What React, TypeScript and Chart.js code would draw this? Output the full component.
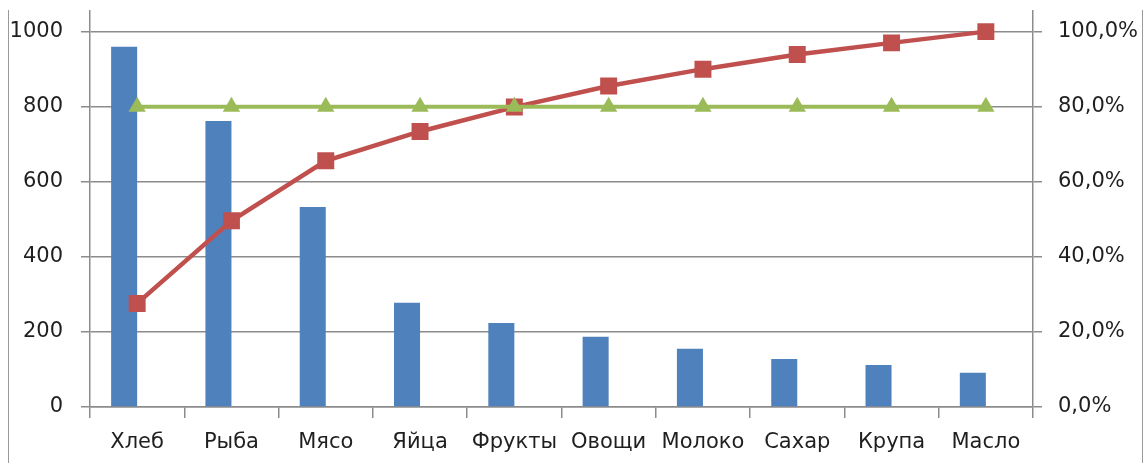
import React, { useEffect, useRef } from "react";
import { Chart, registerables } from "chart.js";

Chart.register(...registerables);

const categories = ["Хлеб", "Рыба", "Мясо", "Яйца", "Фрукты", "Овощи", "Молоко", "Сахар", "Крупа", "Масло"];
const amounts = [960, 762, 533, 278, 224, 187, 155, 128, 112, 91];
const emptySeries = [null, null, null, null, null, null, null, null, null, null];
const cumulativeShare = [0.276, 0.496, 0.656, 0.734, 0.799, 0.855, 0.9, 0.939, 0.97, 1.0];
const threshold = [0.8, 0.8, 0.8, 0.8, 0.8, 0.8, 0.8, 0.8, 0.8, 0.8];

const BLUE = "#4F81BD";
const RED = "#C0504D";
const GREEN = "#9BBB59";
const GRID = "#8C8C8C";
const FONT = { family: "'DejaVu Sans', sans-serif", size: 21 };
const TEXT = "#1f1f1f";
const SHIFT = 20;

export default function App() {
  const ref = useRef<HTMLCanvasElement | null>(null);

  useEffect(() => {
    document.body.style.margin = "0";
    const ctx = ref.current!.getContext("2d")!;
    const chart = new Chart(ctx, {
      type: "bar",
      data: {
        labels: categories,
        datasets: [
          {
            type: "line",
            label: "80%",
            data: threshold,
            yAxisID: "y1",
            borderColor: GREEN,
            backgroundColor: GREEN,
            borderWidth: 4,
            pointStyle: "triangle",
            pointRadius: 10,
            pointBorderWidth: 0,
            order: 0,
          },
          {
            type: "line",
            label: "Накопленная доля",
            data: cumulativeShare,
            yAxisID: "y1",
            borderColor: RED,
            backgroundColor: RED,
            borderWidth: 4.5,
            pointStyle: "rect",
            pointRadius: 12,
            pointBorderWidth: 0,
            order: 1,
          },
          {
            type: "bar",
            label: "Объём",
            data: amounts,
            yAxisID: "y",
            backgroundColor: BLUE,
            borderWidth: 0,
            categoryPercentage: 0.552,
            barPercentage: 1,
            order: 2,
          },
          {
            type: "bar",
            label: "",
            data: emptySeries,
            yAxisID: "y",
            backgroundColor: BLUE,
            categoryPercentage: 0.552,
            barPercentage: 1,
            order: 3,
          },
        ],
      },
      options: {
        animation: false,
        responsive: false,
        maintainAspectRatio: false,
        layout: { padding: { left: 0, right: 0, top: 0, bottom: 0 } },
        plugins: { legend: { display: false }, tooltip: { enabled: false } },
        scales: {
          x: {
            offset: true,
            grid: {
              offset: true,
              drawOnChartArea: false,
              drawTicks: true,
              tickLength: 11,
              color: GRID,
              lineWidth: 1.5,
            },
            border: { display: true, color: GRID, width: 1.5 },
            ticks: { font: FONT, color: TEXT, padding: 12, maxRotation: 0, autoSkip: false },
            afterFit: (s: any) => {
              s.height = 56;
            },
          },
          y: {
            position: "left",
            min: 0,
            max: 1056,
            ticks: {
              stepSize: 200,
              includeBounds: false,
              font: FONT,
              color: TEXT,
              padding: 18,
              callback: (v: any) => String(v),
            },
            grid: { color: GRID, lineWidth: 1.5, tickLength: 9, drawTicks: true },
            border: { display: true, color: GRID, width: 1.5 },
            afterFit: (s: any) => {
              s.width = 90;
            },
          },
          y1: {
            position: "right",
            min: 0,
            max: 1.056,
            ticks: {
              stepSize: 0.2,
              includeBounds: false,
              font: FONT,
              color: TEXT,
              padding: 16,
              callback: (v: any) => (Number(v) * 100).toFixed(1).replace(".", ",") + "%",
            },
            grid: { drawOnChartArea: false, color: GRID, lineWidth: 1.5, tickLength: 9, drawTicks: true },
            border: { display: true, color: GRID, width: 1.5 },
            afterFit: (s: any) => {
              s.width = 110;
            },
          },
        },
      },
    });
    return () => chart.destroy();
  }, []);

  return (
    <div style={{ position: "absolute", left: 0, top: 0, width: 1143, height: 463, background: "#fff", overflow: "hidden" }}>
      <div
        style={{
          position: "absolute",
          left: 8,
          top: 10,
          width: 1133,
          height: 453,
          borderLeft: "1.5px solid #9a9a9a",
          borderRight: "1.5px solid #9a9a9a",
        }}
      />
      <canvas
        ref={ref}
        width={1143}
        height={463 + SHIFT}
        style={{ position: "absolute", left: 0, top: -SHIFT }}
      />
    </div>
  );
}
